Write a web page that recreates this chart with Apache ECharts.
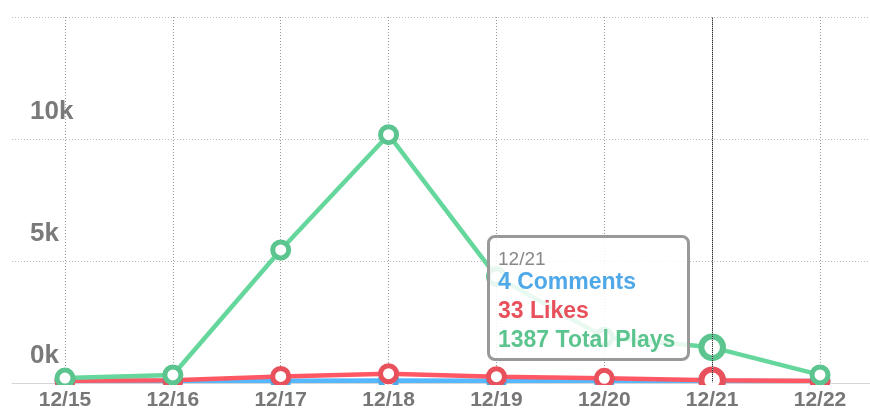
<!DOCTYPE html>
<html lang="en">
<head>
  <meta charset="utf-8" />
  <title>Plays / Likes / Comments</title>
  <script src="https://cdn.jsdelivr.net/npm/echarts@6/dist/echarts.min.js"></script>
</head>
<body style="margin: 0; background: #fff;">
<div id="chart" style="width: 870px; height: 411px;"></div>
<script>
  // daily stats
  var days = ['12/15', '12/16', '12/17', '12/18', '12/19', '12/20', '12/21', '12/22'];
  var comments = [0, 1, 12, 18, 9, 6, 4, 1];
  var likes = [10, 30, 190, 300, 180, 110, 33, 5];
  var plays = [120, 250, 5400, 10150, 4300, 1800, 1387, 250];
  var yTicks = [0, 5000, 10000, 15000];

  var BLUE = '#4fa8e8', RED = '#e8505b', GREEN = '#5cc48e';
  var FONT = "'Liberation Sans', Arial, sans-serif";

  var chart = echarts.init(document.getElementById('chart'), null, { renderer: 'canvas' });

  function lineSeries(name, values, color) {
    return {
      name: name,
      type: 'line',
      xAxisIndex: 1,
      yAxisIndex: 1,
      data: values,
      symbol: 'circle',
      symbolSize: 16,
      showAllSymbol: true,
      lineStyle: { color: color, width: 4.5 },
      itemStyle: { color: '#fff', borderColor: color, borderWidth: 5 },
      emphasis: { scale: 1.35, lineStyle: { width: 4.5 }, itemStyle: { borderWidth: 6 } },
      z: 2
    };
  }

  chart.setOption({
    animation: false,
    grid: [
      { left: 12, right: 0, top: 17, bottom: 28 },
      { left: 65, right: 50, top: 17, bottom: 28 }
    ],
    xAxis: [
      {
        gridIndex: 0, type: 'value', min: 0, max: 1,
        axisLine: { show: true, lineStyle: { color: '#d6d6d6', width: 1 } },
        axisTick: { show: false }, axisLabel: { show: false }, splitLine: { show: false }
      },
      {
        // vertical dotted grid + hover line
        gridIndex: 1, type: 'category', data: days, boundaryGap: false,
        axisLine: { show: false }, axisTick: { show: false }, axisLabel: { show: false },
        splitLine: { show: true, lineStyle: { color: '#999', type: [1, 2], width: 1 } },
        axisPointer: { type: 'line', lineStyle: { color: '#333', type: [1, 1], width: 1 }, label: { show: false } }
      },
      {
        // date labels, drawn above the baseline cover
        gridIndex: 1, type: 'category', data: days, boundaryGap: false, position: 'bottom',
        axisLine: { show: false }, axisTick: { show: false }, splitLine: { show: false },
        axisPointer: { show: false },
        axisLabel: { color: '#777', fontSize: 21, fontWeight: 'bold', fontFamily: FONT, margin: 9 },
        z: 5
      }
    ],
    yAxis: [
      {
        gridIndex: 0, type: 'value', min: yTicks[0], max: yTicks[yTicks.length - 1], interval: 5000,
        axisLine: { show: false }, axisTick: { show: false },
        splitLine: { show: true, lineStyle: { color: '#bbb', type: [1, 2], width: 1 } },
        axisLabel: {
          showMaxLabel: false,
          align: 'left', verticalAlign: 'bottom', margin: -18, padding: [0, 0, 14, 0],
          color: '#7a7a7a', fontSize: 26, fontWeight: 'bold', fontFamily: FONT,
          formatter: function (v) { return (v / 1000) + 'k'; }
        }
      },
      {
        gridIndex: 1, type: 'value', min: yTicks[0], max: yTicks[yTicks.length - 1], show: false
      }
    ],
    tooltip: {
      trigger: 'axis',
      alwaysShowContent: true,
      triggerOn: 'none',
      transitionDuration: 0,
      position: [487, 235],
      backgroundColor: 'rgba(255,255,255,0.85)',
      borderColor: '#999',
      borderWidth: 3,
      borderRadius: 8,
      padding: [12, 8, 8, 8],
      extraCssText: 'box-shadow:none;width:181px;height:100px;',
      formatter: function (params) {
        var i = params[0].dataIndex;
        var b = 'font-weight:bold;font-size:23px;line-height:29px;font-family:' + FONT + ';';
        return '<div style="color:#888;font-size:19px;line-height:17px;font-family:' + FONT + ';">' + days[i] + '</div>' +
          '<div style="' + b + 'color:' + BLUE + ';">' + comments[i] + ' Comments</div>' +
          '<div style="' + b + 'color:' + RED + ';">' + likes[i] + ' Likes</div>' +
          '<div style="' + b + 'color:' + GREEN + ';">' + plays[i] + ' Total Plays</div>';
      }
    },
    graphic: [
      // hides the lower half of markers sitting on the baseline
      { type: 'rect', shape: { x: 0, y: 385, width: 870, height: 26 }, style: { fill: '#fff' }, z: 3, silent: true }
    ],
    series: [
      lineSeries('Comments', comments, BLUE),
      lineSeries('Likes', likes, RED),
      lineSeries('Total Plays', plays, GREEN)
    ]
  });

  chart.dispatchAction({ type: 'showTip', seriesIndex: 2, dataIndex: 6 });
</script>
</body>
</html>
